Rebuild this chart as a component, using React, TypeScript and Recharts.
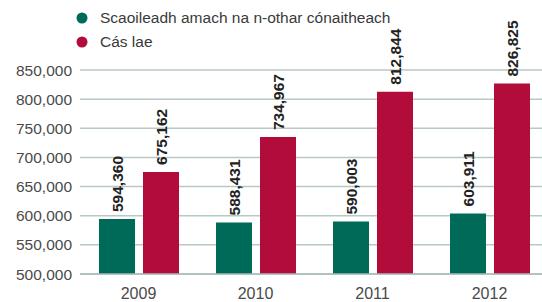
import React from "react";
import { BarChart, Bar, XAxis, YAxis, CartesianGrid, Legend, LabelList } from "recharts";

const years = ["2009", "2010", "2011", "2012"];
const inpatient = [594360, 588431, 590003, 603911];
const dayCase = [675162, 734967, 812844, 826825];
const yTicks = [500000, 550000, 600000, 650000, 700000, 750000, 800000, 850000];
const seriesNames = ["Scaoileadh amach na n-othar cónaitheach", "Cás lae"];
const colors = ["#006a58", "#b20d3a"];

const data = years.map((y, i) => ({ year: y, a: inpatient[i], b: dayCase[i] }));

const FONT = "'Liberation Sans', Arial, Helvetica, sans-serif";
const fmt = (v: number) => v.toLocaleString("en-US");

const RotLabel = (props: any) => {
  const { x, y, width, value } = props;
  const cx = x + width / 2 + 0.5;
  const cy = y - 7;
  return (
    <text
      x={cx}
      y={cy}
      transform={`rotate(-90 ${cx} ${cy})`}
      textAnchor="start"
      dominantBaseline="central"
      fontFamily={FONT}
      fontWeight="bold"
      fontSize={15.5}
      fill="#222"
    >
      {fmt(value)}
    </text>
  );
};

const LegendContent = () => (
  <div style={{ fontFamily: FONT, fontSize: 15.5, color: "#3a3a3a" }}>
    {seriesNames.map((n, i) => (
      <div key={n} style={{ display: "flex", alignItems: "center", height: 24 }}>
        <svg width={12} height={12} style={{ marginRight: 12 }}>
          <circle cx={6} cy={6} r={5.5} fill={colors[i]} />
        </svg>
        <span>{n}</span>
      </div>
    ))}
  </div>
);

export default function App() {
  return (
    <div style={{ position: "absolute", left: 0, top: 0, width: 542, height: 302, overflow: "hidden", background: "#fff" }}>
      <BarChart
        width={548}
        height={302}
        data={data}
        margin={{ top: 70, right: 0, bottom: 0, left: 0 }}
        barSize={36}
        barGap={8}
      >
        <CartesianGrid horizontal vertical={false} stroke="#b7c9c3" strokeWidth={1.5} />
        <XAxis
          dataKey="year"
          height={28}
          tickLine={false}
          axisLine={{ stroke: "#a9bdb7", strokeWidth: 1.5 }}
          tickSize={0}
          tickMargin={14}
          tick={{ fontFamily: FONT, fontSize: 16, fill: "#4a4a4a" }}
        />
        <YAxis
          width={80}
          domain={[500000, 850000]}
          ticks={yTicks}
          tickFormatter={fmt}
          axisLine={false}
          tickLine={false}
          tickSize={0}
          tickMargin={8}
          tick={{ fontFamily: FONT, fontSize: 15.5, fill: "#4a4a4a" }}
        />
        <Legend
          verticalAlign="middle"
          align="center"
          layout="horizontal"
          content={<LegendContent />}
          wrapperStyle={{ top: 6, left: 76, width: 460 }}
        />
        <Bar dataKey="a" name={seriesNames[0]} fill={colors[0]} isAnimationActive={false}>
          <LabelList dataKey="a" content={<RotLabel />} />
        </Bar>
        <Bar dataKey="b" name={seriesNames[1]} fill={colors[1]} isAnimationActive={false}>
          <LabelList dataKey="b" content={<RotLabel />} />
        </Bar>
      </BarChart>
    </div>
  );
}
